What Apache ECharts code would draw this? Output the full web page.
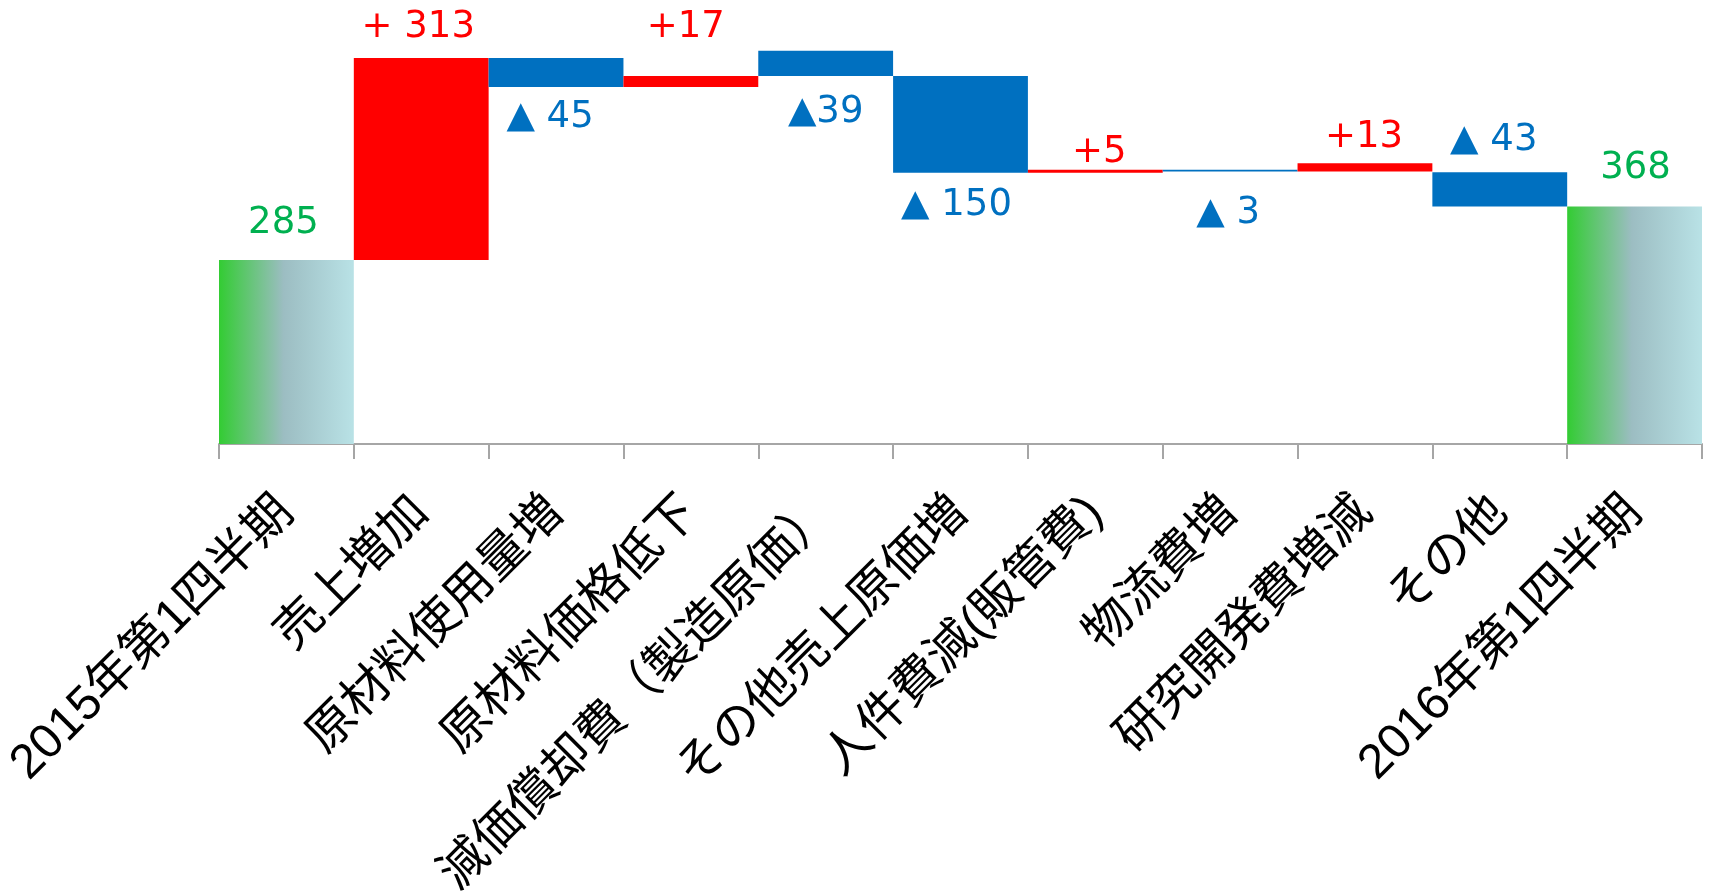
<!DOCTYPE html>
<html>
<head>
<meta charset="utf-8">
<style>
html,body{margin:0;padding:0;background:#fff;}
#chart{width:1710px;height:896px;}
</style>
<script src="https://cdn.jsdelivr.net/npm/echarts@6/dist/echarts.min.js"></script>
</head>
<body>
<div id="chart"></div>
<script>
// ---- data ----
const categories = ['2015年第1四半期','売上増加','原材料使用量増','原材料価格低下','減価償却費（製造原価）','その他売上原価増','人件費減(販管費)','物流費増','研究開発費増減','その他','2016年第1四半期'];
// invisible floor of each bar (as drawn in the picture)
const baseValues = [0, 285, 553, 553, 570, 420, 420, 422, 422, 368, 0];
// visible height of each bar (as drawn in the picture)
const barValues  = [285, 313, 45, 17, 39, 150, 5, 3, 13, 53, 368];
// kind of each bar: total / up / down
const barKinds   = ['total','up','down','up','down','down','up','down','up','down','total'];
// data labels as printed
const labelTexts = ['285','+ 313','▲ 45','+17','▲39','▲ 150','+5','▲ 3','+13','▲ 43','368'];

// ---- styling ----
const labelPos    = ['top','top','bottom','top','bottom','bottom','top','bottom','top','top','top'];
const labelDist   = [18, 12, 11.5, 30, 17.5, 14, -1.5, 23.5, 7.5, 13, 20];
const labelShiftX = [-3, -3, -6, -5, 0, -4, 4, -2, -1, -6, 1];
const RED = '#FF0000', BLUE = '#0070C0', GREEN_TXT = '#00B050';
const totalFill = new echarts.graphic.LinearGradient(0, 0, 1, 0, [
  {offset: 0, color: '#33CC33'},
  {offset: 0.48, color: '#9CBDC2'},
  {offset: 1, color: '#B9E2E6'}
]);
function colorOf(kind){ return kind === 'up' ? RED : kind === 'down' ? BLUE : totalFill; }
function textColorOf(kind){ return kind === 'up' ? RED : kind === 'down' ? BLUE : GREEN_TXT; }

const visibleData = barValues.map((v, i) => ({
  value: v,
  itemStyle: {color: colorOf(barKinds[i])},
  label: {
    show: true,
    position: labelPos[i],
    distance: labelDist[i],
    offset: [labelShiftX[i], 0],
    formatter: labelTexts[i],
    color: textColorOf(barKinds[i]),
    fontSize: 37,
    fontFamily: 'DejaVu Sans, Noto Sans CJK JP, sans-serif'
  }
}));

const chart = echarts.init(document.getElementById('chart'), null, {renderer: 'canvas'});
chart.setOption({
  animation: false,
  backgroundColor: '#ffffff',
  grid: {left: 219, right: 8, top: 5, bottom: 452, containLabel: false, outerBoundsMode: 'none'},
  xAxis: {
    type: 'category',
    data: categories,
    boundaryGap: true,
    axisLine: {show: true, lineStyle: {color: '#A6A6A6', width: 2}},
    axisTick: {show: true, length: 15, lineStyle: {color: '#A6A6A6', width: 2}},
    axisLabel: {
      interval: 0,
      rotate: 45,
      margin: 61,
      color: '#000000',
      fontSize: 48.5,
      fontFamily: 'Liberation Sans, Noto Sans CJK JP, sans-serif'
    }
  },
  yAxis: {
    type: 'value',
    min: 0,
    max: 680,
    show: false,
    splitLine: {show: false}
  },
  series: [
    {
      name: 'base',
      type: 'bar',
      stack: 'wf',
      data: baseValues,
      itemStyle: {color: 'rgba(0,0,0,0)'},
      emphasis: {disabled: true},
      barCategoryGap: '0%',
      silent: true
    },
    {
      name: 'value',
      type: 'bar',
      stack: 'wf',
      data: visibleData,
      barCategoryGap: '0%'
    }
  ]
});
</script>
</body>
</html>
